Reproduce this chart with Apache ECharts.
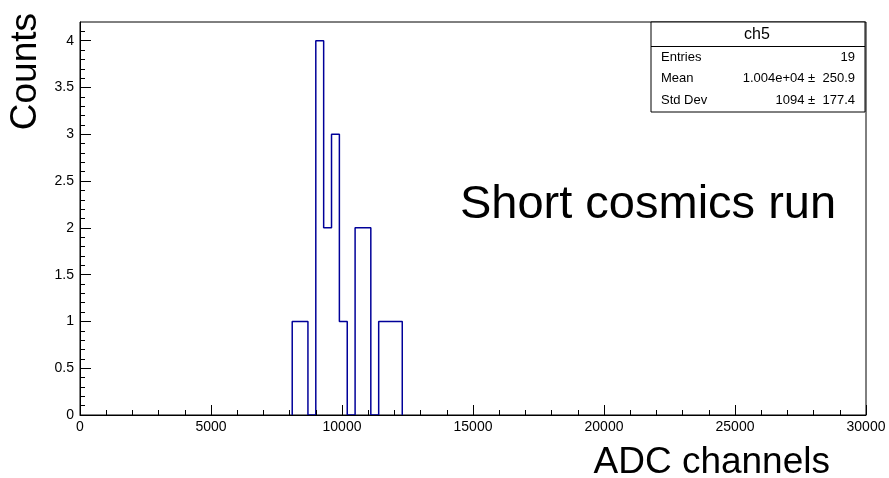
<!DOCTYPE html>
<html>
<head>
<meta charset="utf-8">
<title>ch5</title>
<script src="https://cdn.jsdelivr.net/npm/echarts@6/dist/echarts.min.js"></script>
<style>
  html, body { margin: 0; padding: 0; background: #fff; }
  #chart { width: 889px; height: 478px; }
</style>
</head>
<body>
<div id="chart"></div>
<script>
// histogram bins (300 ADC channels wide), only the filled region
const binEdges = [8100, 8400, 8700, 9000, 9300, 9600, 9900, 10200, 10500, 10800, 11100, 11400, 11700, 12000, 12300];
const binCounts = [1, 1, 0, 4, 2, 3, 1, 0, 2, 2, 0, 1, 1, 1];

// axis ticks
const yMajorTicks = [0, 0.5, 1, 1.5, 2, 2.5, 3, 3.5, 4];
const yMinorTicks = [0, 0.1, 0.2, 0.3, 0.4, 0.5, 0.6, 0.7, 0.8, 0.9, 1, 1.1, 1.2, 1.3, 1.4, 1.5, 1.6, 1.7, 1.8, 1.9,
  2, 2.1, 2.2, 2.3, 2.4, 2.5, 2.6, 2.7, 2.8, 2.9, 3, 3.1, 3.2, 3.3, 3.4, 3.5, 3.6, 3.7, 3.8, 3.9, 4, 4.1];

// stats box
const statsTitle = "ch5";
const statsNames = ["Entries", "Mean", "Std Dev"];
const statsValues = ["19", "1.004e+04 \u00b1  250.9", "1094 \u00b1  177.4"];

const FONT = "'Liberation Sans', Arial, Helvetica, sans-serif";

const chart = echarts.init(document.getElementById("chart"));

// step outline: [left edge, count] then back down to zero
const outline = [[binEdges[0], 0]];
binCounts.forEach((c, i) => outline.push([binEdges[i], c]));
outline.push([binEdges[binEdges.length - 1], 0]);

const statsGraphics = [
  {
    type: "rect",
    shape: { x: 651, y: 22, width: 214, height: 90 },
    style: { fill: "#fff", stroke: "#000", lineWidth: 1 },
    z: 10,
  },
  {
    type: "line",
    shape: { x1: 651, y1: 46.5, x2: 865, y2: 46.5 },
    style: { stroke: "#000", lineWidth: 1 },
    z: 11,
  },
  {
    type: "text",
    x: 757, y: 35,
    style: { text: statsTitle, font: "16px " + FONT, fill: "#000", textAlign: "center", textVerticalAlign: "middle" },
    z: 11,
  },
];
statsNames.forEach((name, i) => {
  const y = 57 + i * 21.7;
  statsGraphics.push({
    type: "text", x: 661, y: y, z: 11,
    style: { text: name, font: "13px " + FONT, fill: "#000", textAlign: "left", textVerticalAlign: "middle" },
  });
  statsGraphics.push({
    type: "text", x: 855, y: y, z: 11,
    style: { text: statsValues[i], font: "13px " + FONT, fill: "#000", textAlign: "right", textVerticalAlign: "middle" },
  });
});

const option = {
  backgroundColor: "#fff",
  animation: false,
  grid: {
    left: 80, right: 23, top: 22, bottom: 63,
    show: true, borderColor: "#000", borderWidth: 1, backgroundColor: "transparent",
  },
  xAxis: {
    type: "value",
    min: 0, max: 30000, interval: 5000,
    z: 10,
    axisLine: { lineStyle: { color: "#000", width: 1 } },
    axisTick: { inside: true, length: 10, lineStyle: { color: "#000" } },
    minorTick: { show: true, splitNumber: 5, length: 5, lineStyle: { color: "#000" } },
    splitLine: { show: false },
    axisLabel: { color: "#000", fontFamily: FONT, fontSize: 14, margin: 5, formatter: (v) => String(v) },
  },
  yAxis: [
    {
      type: "value", position: "left",
      min: 0, max: 4.2,
      z: 10,
      axisLine: { show: true, lineStyle: { color: "#000", width: 1 } },
      axisTick: { show: true, inside: true, length: 11, customValues: yMajorTicks, lineStyle: { color: "#000" } },
      splitLine: { show: false },
      axisLabel: { color: "#000", fontFamily: FONT, fontSize: 14, margin: 6, customValues: yMajorTicks },
    },
    {
      // minor ticks only
      type: "value", position: "left",
      min: 0, max: 4.2,
      z: 10,
      axisLine: { show: false },
      axisTick: { show: true, inside: true, length: 5, customValues: yMinorTicks, lineStyle: { color: "#000" } },
      splitLine: { show: false },
      axisLabel: { show: false },
    },
  ],
  series: [
    {
      type: "line",
      step: "end",
      data: outline,
      yAxisIndex: 0,
      symbol: "none",
      lineStyle: { color: "#000099", width: 1.5 },
      z: 1,
    },
  ],
  graphic: [
    {
      type: "text", x: 648, y: 205,
      style: { text: "Short cosmics run", font: "47px " + FONT, fill: "#000", textAlign: "center", textVerticalAlign: "middle" },
    },
    {
      type: "text", x: 830, y: 463,
      style: { text: "ADC channels", font: "37px " + FONT, fill: "#000", textAlign: "right", textVerticalAlign: "middle" },
    },
    {
      type: "text", x: 26, y: 13, rotation: Math.PI / 2,
      style: { text: "Counts", font: "37px " + FONT, fill: "#000", textAlign: "right", textVerticalAlign: "middle" },
    },
    ...statsGraphics,
  ],
};

chart.setOption(option);
</script>
</body>
</html>
